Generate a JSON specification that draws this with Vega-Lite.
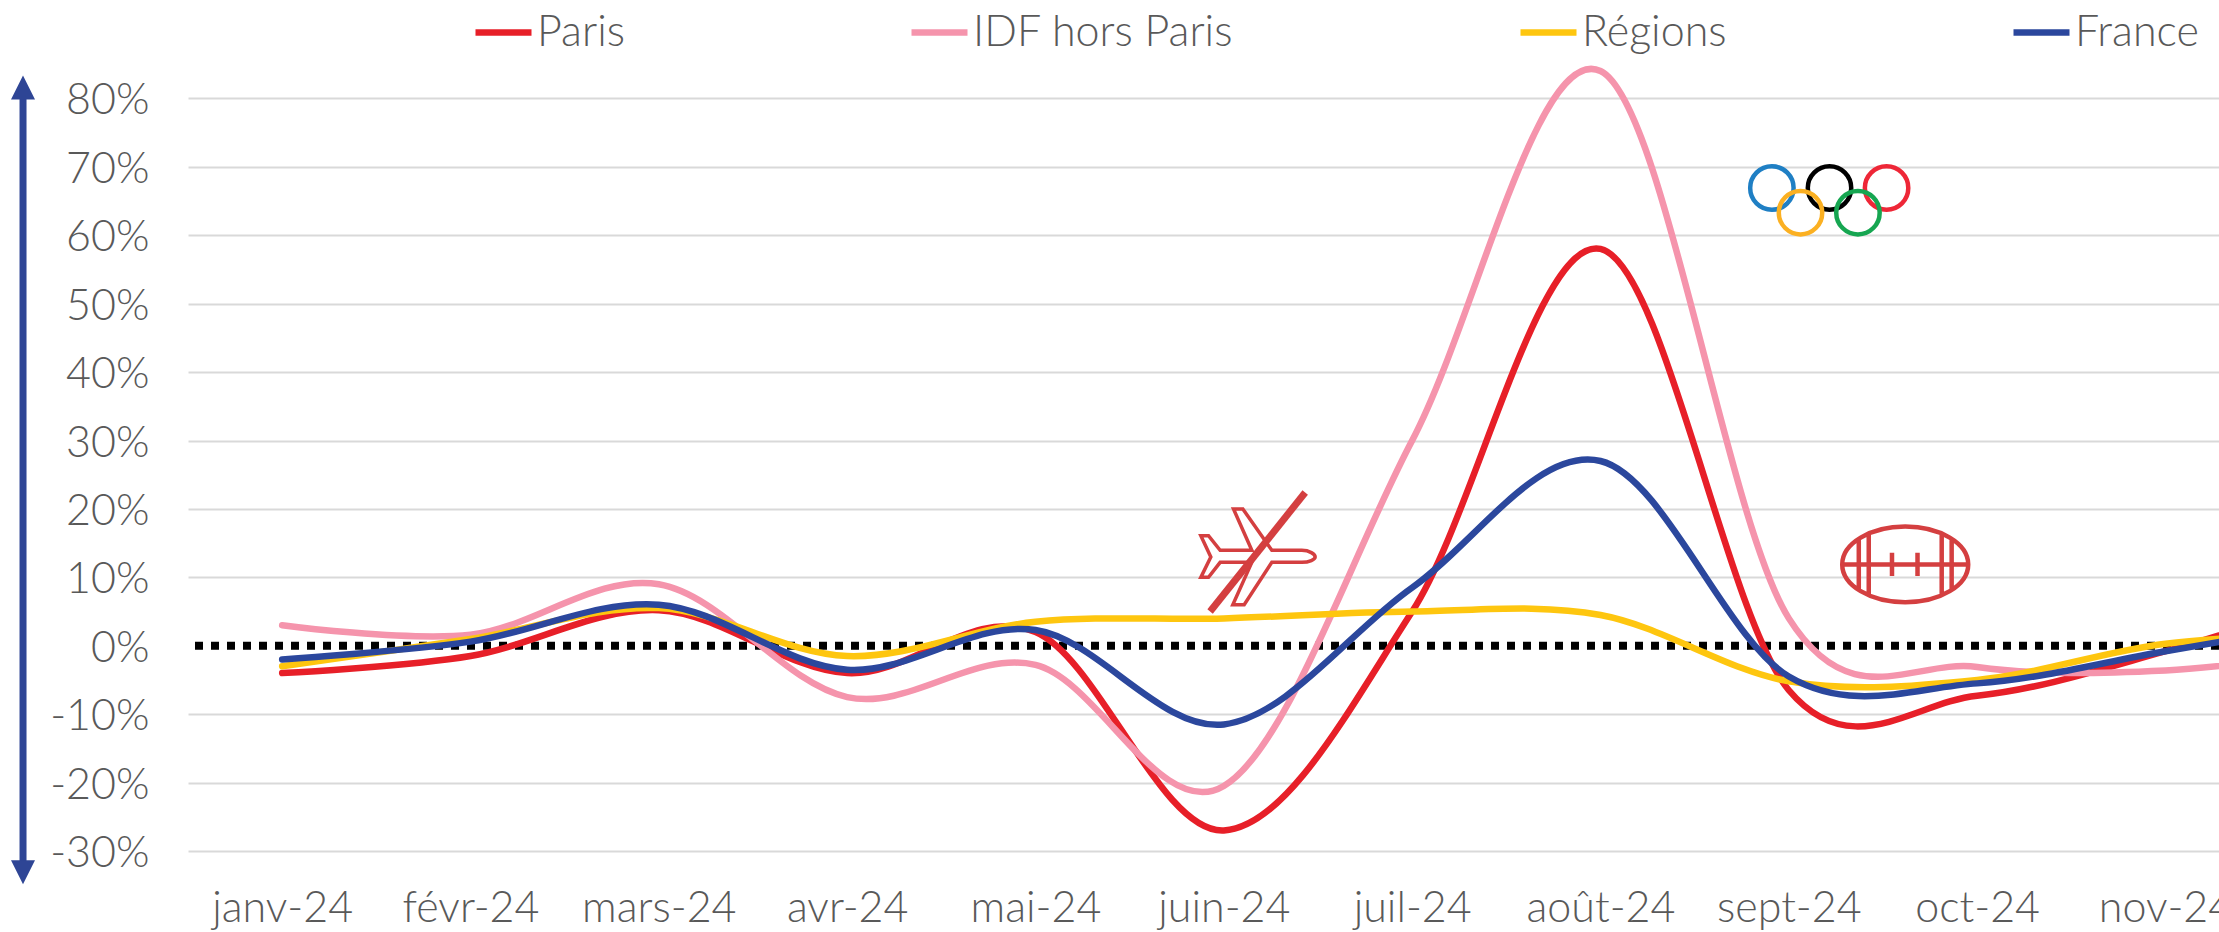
{"$schema":"https://vega.github.io/schema/vega-lite/v6.json","autosize":{"type":"none"},"padding":{"left":188,"top":30,"right":0,"bottom":81},"width":2031,"height":821,"background":"white","config":{"view":{"stroke":null},"font":"Lato"},
"datasets":{"series":[
{"mois":"janv-24","serie":"Paris","valeur":-4},{"mois":"févr-24","serie":"Paris","valeur":-1.5},{"mois":"mars-24","serie":"Paris","valeur":5.2},{"mois":"avr-24","serie":"Paris","valeur":-4},{"mois":"mai-24","serie":"Paris","valeur":2},{"mois":"juin-24","serie":"Paris","valeur":-27},{"mois":"juil-24","serie":"Paris","valeur":5},{"mois":"août-24","serie":"Paris","valeur":58},{"mois":"sept-24","serie":"Paris","valeur":-6.5},{"mois":"oct-24","serie":"Paris","valeur":-7.3},{"mois":"nov-24","serie":"Paris","valeur":-0.8},{"mois":"déc-24","serie":"Paris","valeur":8},
{"mois":"janv-24","serie":"IDF hors Paris","valeur":3},{"mois":"févr-24","serie":"IDF hors Paris","valeur":1.6},{"mois":"mars-24","serie":"IDF hors Paris","valeur":9},{"mois":"avr-24","serie":"IDF hors Paris","valeur":-7.5},{"mois":"mai-24","serie":"IDF hors Paris","valeur":-2.8},{"mois":"juin-24","serie":"IDF hors Paris","valeur":-20.5},{"mois":"juil-24","serie":"IDF hors Paris","valeur":30},{"mois":"août-24","serie":"IDF hors Paris","valeur":84},{"mois":"sept-24","serie":"IDF hors Paris","valeur":4},{"mois":"oct-24","serie":"IDF hors Paris","valeur":-3.1},{"mois":"nov-24","serie":"IDF hors Paris","valeur":-3.6},{"mois":"déc-24","serie":"IDF hors Paris","valeur":-0.5},
{"mois":"janv-24","serie":"Régions","valeur":-3},{"mois":"févr-24","serie":"Régions","valeur":1},{"mois":"mars-24","serie":"Régions","valeur":5.5},{"mois":"avr-24","serie":"Régions","valeur":-1.5},{"mois":"mai-24","serie":"Régions","valeur":3.5},{"mois":"juin-24","serie":"Régions","valeur":4},{"mois":"juil-24","serie":"Régions","valeur":5},{"mois":"août-24","serie":"Régions","valeur":4.5},{"mois":"sept-24","serie":"Régions","valeur":-5.2},{"mois":"oct-24","serie":"Régions","valeur":-5},{"mois":"nov-24","serie":"Régions","valeur":0.3},{"mois":"déc-24","serie":"Régions","valeur":2},
{"mois":"janv-24","serie":"France","valeur":-2},{"mois":"févr-24","serie":"France","valeur":0.6},{"mois":"mars-24","serie":"France","valeur":6},{"mois":"avr-24","serie":"France","valeur":-3.5},{"mois":"mai-24","serie":"France","valeur":2.3},{"mois":"juin-24","serie":"France","valeur":-11.5},{"mois":"juil-24","serie":"France","valeur":8.5},{"mois":"août-24","serie":"France","valeur":27},{"mois":"sept-24","serie":"France","valeur":-4.5},{"mois":"oct-24","serie":"France","valeur":-5.5},{"mois":"nov-24","serie":"France","valeur":-0.8},{"mois":"déc-24","serie":"France","valeur":4}
]},
"layer":[
{"data":{"values":[{"valeur":0}]},"mark":{"type":"rule","color":"#000000","strokeWidth":8,"strokeDash":[8,8]},"encoding":{"y":{"field":"valeur","type":"quantitative","scale":{"domain":[-30,90],"nice":false,"zero":false},"axis":{"title":null,"values":[-30,-20,-10,0,10,20,30,40,50,60,70,80],"labelExpr":"datum.value + '%'","domain":false,"ticks":false,"labelPadding":39,"labelOffset":2.5,"labelFont":"Lato","labelFontWeight":300,"labelFontSize":43,"labelColor":"#595959","grid":true,"gridWidth":2,"gridColor":{"condition":{"test":"datum.value === 0","value":"transparent"},"value":"#D9D9D9"}}}}},
{"data":{"name":"series"},"mark":{"type":"line","interpolate":"cardinal","tension":0,"strokeWidth":6.5,"strokeCap":"round","clip":true},"encoding":{"x":{"field":"mois","type":"ordinal","sort":null,"scale":{"type":"point","padding":0.5,"domain":["janv-24","févr-24","mars-24","avr-24","mai-24","juin-24","juil-24","août-24","sept-24","oct-24","nov-24","déc-24"],"range":[0,2260]},"axis":{"title":null,"values":["janv-24","févr-24","mars-24","avr-24","mai-24","juin-24","juil-24","août-24","sept-24","oct-24","nov-24"],"labelAngle":0,"domain":false,"ticks":false,"grid":false,"labelPadding":36,"labelFont":"Lato","labelFontWeight":300,"labelFontSize":43,"labelColor":"#595959","labelOverlap":false}},"y":{"field":"valeur","type":"quantitative"},"color":{"field":"serie","type":"nominal","sort":null,"scale":{"domain":["Paris","IDF hors Paris","Régions","France"],"range":["#E71F28","#F594AC","#FEC60F","#2B479D"]},"legend":{"title":null,"orient":"none","direction":"horizontal","columns":4,"gridAlign":"none","columnPadding":273,"legendX":284,"legendY":-29,"symbolType":"stroke","symbolSize":3136,"symbolStrokeWidth":6.5,"labelOffset":2,"labelFont":"Lato","labelFontWeight":300,"labelFontSize":43,"labelColor":"#595959","labelLimit":600}}}},
{"data":{"values":[{"anneau":"bleu","xi":8.41,"yv":66.9},{"anneau":"noir","xi":8.716,"yv":66.9},{"anneau":"rouge","xi":9.019,"yv":66.9},{"anneau":"jaune","xi":8.562,"yv":63.3},{"anneau":"vert","xi":8.867,"yv":63.3}]},"mark":{"type":"point","shape":"circle","filled":false,"strokeWidth":4.5,"opacity":1,"size":1886},"encoding":{"x":{"field":"xi","type":"quantitative","scale":{"domain":[0,12],"range":[0,2260],"nice":false,"zero":false},"axis":null},"y":{"field":"yv","type":"quantitative"},"color":{"field":"anneau","type":"nominal","scale":{"domain":["bleu","noir","rouge","jaune","vert"],"range":["#1F7FC4","#000000","#EE2737","#FBB022","#16A651"]},"legend":null}}},
{"data":{"values":[{"xi":5.677,"yv":12.97}]},"mark":{"type":"point","shape":"M-0.971,-0.368L-0.839,-0.368L-0.638,-0.115L-0.092,-0.115L-0.408,-0.828L-0.247,-0.828L0.253,-0.115L0.77,-0.115C0.9,-0.115 1,-0.05 1,0C1,0.04 0.9,0.092 0.77,0.092L0.253,0.092L-0.224,0.822L-0.42,0.822L-0.092,0.092L-0.638,0.092L-0.839,0.351L-0.971,0.351L-0.799,0Z","filled":false,"stroke":"#D43F40","strokeWidth":3.5,"opacity":1,"size":13456},"encoding":{"x":{"field":"xi","type":"quantitative","scale":{"domain":[0,12],"range":[0,2260],"nice":false,"zero":false},"axis":null},"y":{"field":"yv","type":"quantitative"}}},
{"data":{"values":[{"xi":5.427,"xf":5.932,"yv":5,"yf":22.4}]},"mark":{"type":"rule","color":"#D43F40","strokeWidth":7},"encoding":{"x":{"field":"xi","type":"quantitative","scale":{"domain":[0,12],"range":[0,2260],"nice":false,"zero":false},"axis":null},"x2":{"field":"xf"},"y":{"field":"yv","type":"quantitative"},"y2":{"field":"yf"}}},
{"data":{"values":[{"xi":9.118,"yv":11.89}]},"mark":{"type":"point","shape":"M-1,0C-1,-0.331 -0.552,-0.6 0,-0.6C0.552,-0.6 1,-0.331 1,0C1,0.331 0.552,0.6 0,0.6C-0.552,0.6 -1,0.331 -1,0ZM-1,0L1,0M-0.737,-0.405L-0.737,0.405M-0.579,-0.489L-0.579,0.489M0.579,-0.489L0.579,0.489M0.737,-0.405L0.737,0.405M-0.21,-0.184L-0.21,0.184M0.195,-0.184L0.195,0.184","filled":false,"stroke":"#D43F40","strokeWidth":4.5,"opacity":1,"size":15876},"encoding":{"x":{"field":"xi","type":"quantitative","scale":{"domain":[0,12],"range":[0,2260],"nice":false,"zero":false},"axis":null},"y":{"field":"yv","type":"quantitative"}}},
{"data":{"values":[{"xi":-0.876,"yv":81.6,"yf":-33.1}]},"mark":{"type":"rule","color":"#2E4595","strokeWidth":7},"encoding":{"x":{"field":"xi","type":"quantitative","scale":{"domain":[0,12],"range":[0,2260],"nice":false,"zero":false},"axis":null},"y":{"field":"yv","type":"quantitative"},"y2":{"field":"yf"}}},
{"data":{"values":[{"xi":-0.876,"yv":81.6}]},"mark":{"type":"point","shape":"M0,-1L-1,1L1,1Z","filled":true,"color":"#2E4595","opacity":1,"size":576},"encoding":{"x":{"field":"xi","type":"quantitative","scale":{"domain":[0,12],"range":[0,2260],"nice":false,"zero":false},"axis":null},"y":{"field":"yv","type":"quantitative"}}},
{"data":{"values":[{"xi":-0.876,"yv":-33.1}]},"mark":{"type":"point","shape":"M0,1L-1,-1L1,-1Z","filled":true,"color":"#2E4595","opacity":1,"size":576},"encoding":{"x":{"field":"xi","type":"quantitative","scale":{"domain":[0,12],"range":[0,2260],"nice":false,"zero":false},"axis":null},"y":{"field":"yv","type":"quantitative"}}}
],
"resolve":{"scale":{"x":"independent","color":"independent"}}}
